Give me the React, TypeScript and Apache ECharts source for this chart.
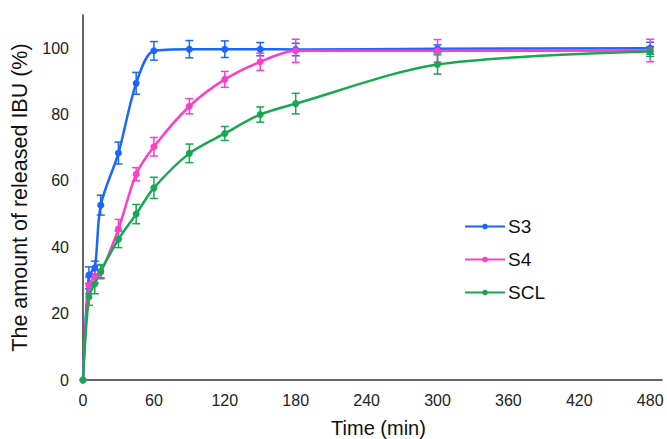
import React, { useEffect, useRef } from "react";
import * as echarts from "echarts";

const time = [0, 5, 10, 15, 30, 45, 60, 90, 120, 150, 180, 300, 480];
const s3 = [0, 31.6, 33.8, 52.7, 68.4, 89.4, 99.2, 99.7, 99.7, 99.7, 99.6, 99.8, 100];
const s3Err = [0, 2.5, 2, 3, 3.3, 3.3, 2.8, 2.6, 2.5, 2, 1.9, 1.2, 1.8];
const s4 = [0, 28.5, 31.2, 32.5, 45.5, 62, 70.3, 82.5, 90.6, 95.9, 99.2, 99.2, 99.3];
const s4Err = [0, 2.5, 2, 2, 2.9, 2, 2.8, 2.3, 2.4, 2.6, 3.5, 3.4, 3.4];
const scl = [0, 25, 29, 32.8, 42.4, 50, 57.9, 68.3, 74.3, 80, 83.3, 95.1, 99];
const sclErr = [0, 2.5, 3, 2, 2.5, 2.9, 3.2, 2.8, 2.1, 2.3, 3.1, 2.9, 1.5];
const xTicks = [0, 60, 120, 180, 240, 300, 360, 420, 480];
const yTicks = [0, 20, 40, 60, 80, 100];

const seriesDefs = [
  { name: "S3", values: s3, err: s3Err, color: "#1a66ff" },
  { name: "S4", values: s4, err: s4Err, color: "#ff3ccc" },
  { name: "SCL", values: scl, err: sclErr, color: "#17a852" },
];

export default function App() {
  const ref = useRef<HTMLDivElement>(null);
  useEffect(() => {
    if (!ref.current) return;
    const chart = echarts.init(ref.current, null, { renderer: "svg" });
    const series: any[] = [];
    seriesDefs.forEach((s) => {
      series.push({
        name: s.name,
        type: "line",
        smooth: 0.3,
        data: time.map((t, i) => [t, s.values[i]]),
        symbol: "circle",
        symbolSize: 7,
        lineStyle: { width: 2.5, color: s.color },
        itemStyle: { color: s.color },
        z: 3,
      });
      series.push({
        name: s.name + "-err",
        type: "custom",
        data: time
          .map((t, i) => [t, s.values[i] - s.err[i], s.values[i] + s.err[i]])
          .filter((d, i) => s.err[i] > 0),
        renderItem: (params: any, api: any) => {
          const x = api.value(0);
          const lo = api.coord([x, api.value(1)]);
          const hi = api.coord([x, api.value(2)]);
          const w = 4;
          const style = { stroke: s.color, lineWidth: 1.5 };
          return {
            type: "group",
            children: [
              { type: "line", shape: { x1: lo[0], y1: lo[1], x2: hi[0], y2: hi[1] }, style },
              { type: "line", shape: { x1: lo[0] - w, y1: lo[1], x2: lo[0] + w, y2: lo[1] }, style },
              { type: "line", shape: { x1: hi[0] - w, y1: hi[1], x2: hi[0] + w, y2: hi[1] }, style },
            ],
          };
        },
        z: 2,
        silent: true,
      });
    });
    chart.setOption({
      animation: false,
      backgroundColor: "#ffffff",
      textStyle: { fontFamily: "Liberation Sans, Arial, sans-serif" },
      grid: { left: 83, right: 5, top: 15, bottom: 59, outerBoundsMode: "none", containLabel: false },
      legend: {
        data: ["S3", "S4", "SCL"],
        orient: "vertical",
        left: 464,
        top: 217,
        padding: 0,
        itemWidth: 40,
        itemHeight: 7,
        itemGap: 14,
        textStyle: { fontSize: 19, color: "#111", padding: [0, 0, 0, -2] },
      },
      xAxis: {
        type: "value",
        min: 0,
        max: 490,
        interval: 60,
        name: "Time (min)",
        nameLocation: "middle",
        nameGap: 38,
        nameTextStyle: { fontSize: 20, color: "#111", padding: [0, 0, 0, 12] },
        axisLine: { show: true, onZero: false, lineStyle: { color: "#333", width: 1.5 } },
        axisTick: { show: false },
        splitLine: { show: false },
        axisLabel: {
          fontSize: 16,
          color: "#222",
          margin: 12,
          formatter: (v: number) => (xTicks.includes(v) ? String(v) : ""),
        },
      },
      yAxis: {
        type: "value",
        min: 0,
        max: 110,
        interval: 20,
        name: "The amount of released IBU (%)",
        nameLocation: "middle",
        nameGap: 50,
        nameTextStyle: { fontSize: 21.5, color: "#111" },
        axisLine: { show: true, lineStyle: { color: "#333", width: 1.5 } },
        axisTick: { show: false },
        splitLine: { show: false },
        axisLabel: {
          fontSize: 16,
          color: "#222",
          margin: 14,
          formatter: (v: number) => (yTicks.includes(v) ? String(v) : ""),
        },
      },
      series,
    });
    return () => chart.dispose();
  }, []);
  return <div ref={ref} style={{ width: 667, height: 439, position: "absolute", left: 0, top: 0 }} />;
}
